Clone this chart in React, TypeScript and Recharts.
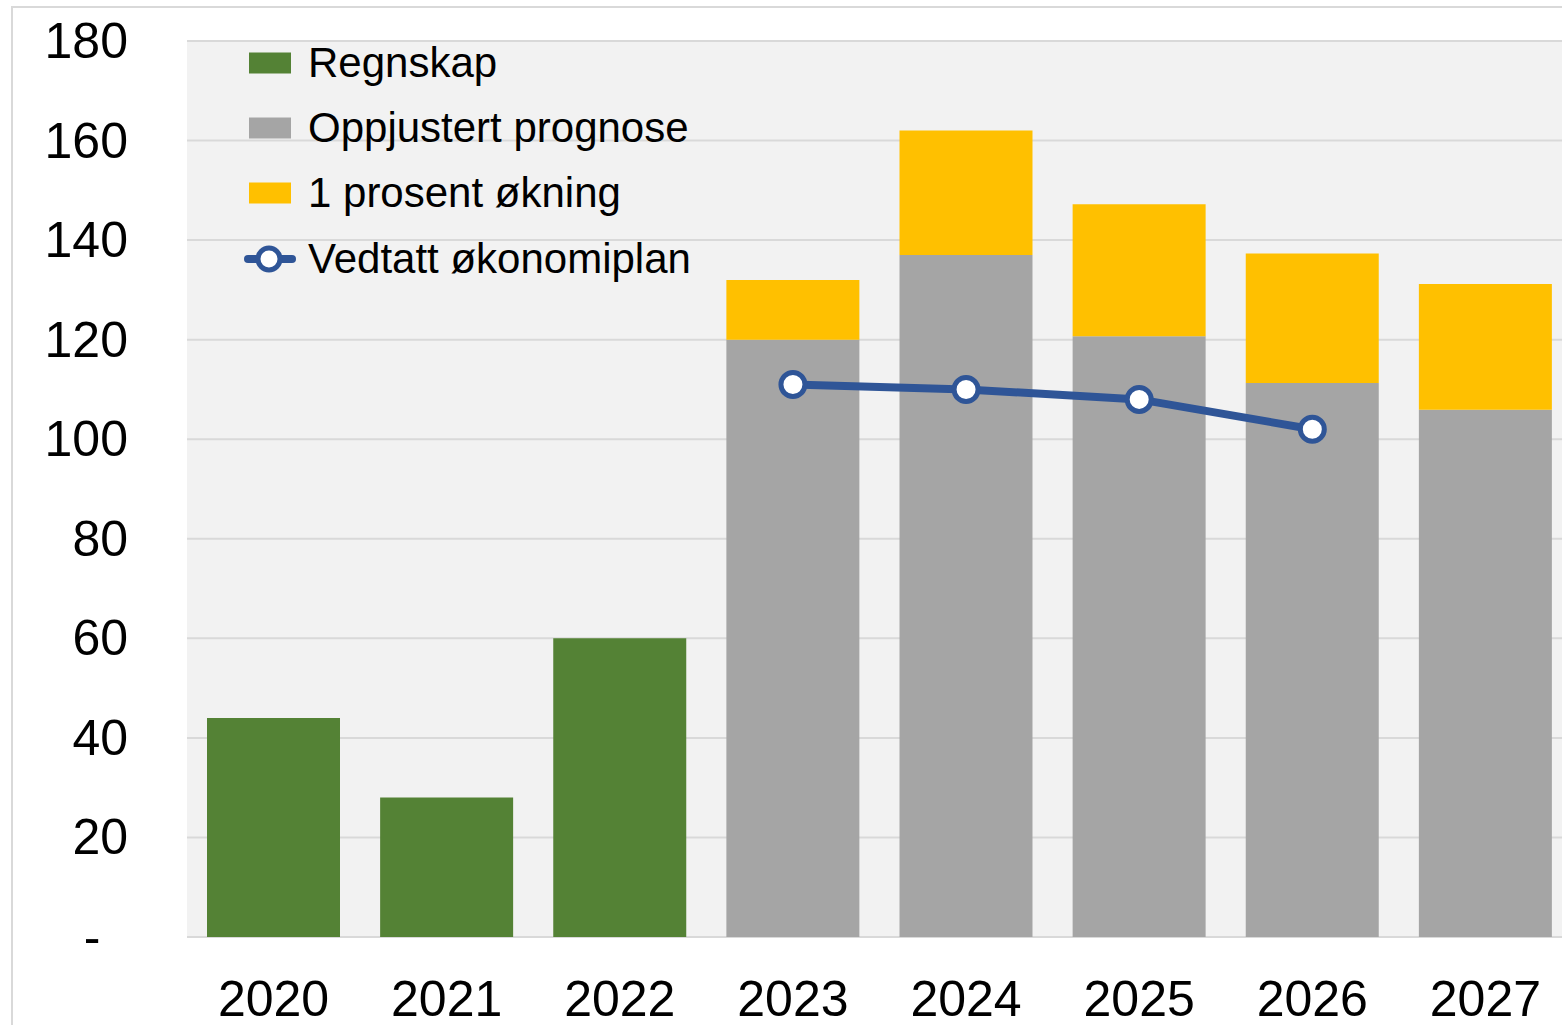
import React from 'react'
import {
  ComposedChart,
  Bar,
  Line,
  XAxis,
  YAxis,
  CartesianGrid,
  Legend
} from 'recharts'

const years = ['2020', '2021', '2022', '2023', '2024', '2025', '2026', '2027']
const regnskap = [44, 28, 60, null, null, null, null, null]
const prognose = [null, null, null, 120, 137, 120.7, 111.3, 105.9]
const okning = [null, null, null, 12, 25, 26.5, 26, 25.3]
const okonomiplan = [null, null, null, 111, 110, 108, 102, null]
const yTicks = [0, 20, 40, 60, 80, 100, 120, 140, 160, 180]

const GREEN = '#548235'
const GRAY = '#A5A5A5'
const YELLOW = '#FFC000'
const BLUE = '#2F5597'
const FONT = '"Liberation Sans", Arial, sans-serif'

const data = years.map((year, i) => ({
  year,
  regnskap: regnskap[i],
  prognose: prognose[i],
  okning: okning[i],
  okonomiplan: okonomiplan[i]
}))

const legendItems = [
  { label: 'Regnskap', color: GREEN, type: 'rect' },
  { label: 'Oppjustert prognose', color: GRAY, type: 'rect' },
  { label: '1 prosent økning', color: YELLOW, type: 'rect' },
  { label: 'Vedtatt økonomiplan', color: BLUE, type: 'line' }
]

// legend drawn inside the plot, top-left
const CustomLegend = () => (
  <div style={{ position: 'absolute', left: 243, top: 30, fontFamily: FONT, whiteSpace: 'nowrap' }}>
    {legendItems.map(item => (
      <div key={item.label} style={{ display: 'flex', alignItems: 'center', height: 65.3 }}>
        <svg width={54} height={30} style={{ marginRight: 11, flexShrink: 0 }}>
          {item.type === 'rect' ? (
            <rect x={6} y={4.5} width={42} height={21} fill={item.color} />
          ) : (
            <g>
              <line x1={5} y1={15} x2={49} y2={15} stroke={item.color} strokeWidth={8} strokeLinecap="round" />
              <circle cx={26} cy={15} r={11} fill="#fff" stroke={item.color} strokeWidth={5} />
            </g>
          )}
        </svg>
        <span style={{ fontSize: 42, color: '#000', lineHeight: 1 }}>{item.label}</span>
      </div>
    ))}
  </div>
)

const YTick = ({ y, payload }: any) => {
  if (payload.value === 0) {
    return (
      <text x={92} y={y} dy={17} textAnchor="middle" fontSize={50} fontFamily={FONT} fill="#000">
        -
      </text>
    )
  }
  return (
    <text x={128} y={y} dy={17} textAnchor="end" fontSize={50} fontFamily={FONT} fill="#000">
      {payload.value}
    </text>
  )
}

const XTick = ({ x, payload }: any) => (
  <text x={x} y={1016} textAnchor="middle" fontSize={50} fontFamily={FONT} fill="#000">
    {payload.value}
  </text>
)

const App = () => {
  return (
    <div style={{ position: 'fixed', left: 0, top: 0, width: 1562, height: 1025, background: '#fff', overflow: 'hidden' }}>
      <div
        style={{
          position: 'absolute',
          left: 11,
          top: 6,
          width: 1600,
          height: 1100,
          borderTop: '2px solid #D9D9D9',
          borderLeft: '2px solid #D9D9D9'
        }}
      />
      <div style={{ position: 'absolute', left: 0, top: 0 }}>
        <ComposedChart
          width={1572}
          height={1025}
          data={data}
          margin={{ top: 41, right: 0, left: 0, bottom: 0 }}
        >
          <CartesianGrid vertical={false} fill="#F2F2F2" stroke="#D9D9D9" strokeWidth={2} />
          <XAxis
            dataKey="year"
            height={88}
            axisLine={false}
            tickLine={false}
            tick={<XTick />}
            interval={0}
          />
          <YAxis
            width={187}
            domain={[0, 180]}
            ticks={yTicks}
            axisLine={false}
            tickLine={false}
            tick={<YTick />}
            interval={0}
          />
          <Legend content={<CustomLegend />} wrapperStyle={{ left: 0, top: 0, width: 0, height: 0 }} />
          <Bar dataKey="regnskap" stackId="a" fill={GREEN} barSize={133} isAnimationActive={false} />
          <Bar dataKey="prognose" stackId="a" fill={GRAY} barSize={133} isAnimationActive={false} />
          <Bar dataKey="okning" stackId="a" fill={YELLOW} barSize={133} isAnimationActive={false} />
          <Line
            dataKey="okonomiplan"
            stroke={BLUE}
            strokeWidth={8}
            dot={{ r: 12, fill: '#fff', stroke: BLUE, strokeWidth: 5 }}
            activeDot={false}
            isAnimationActive={false}
          />
        </ComposedChart>
      </div>
    </div>
  )
}

export default App
